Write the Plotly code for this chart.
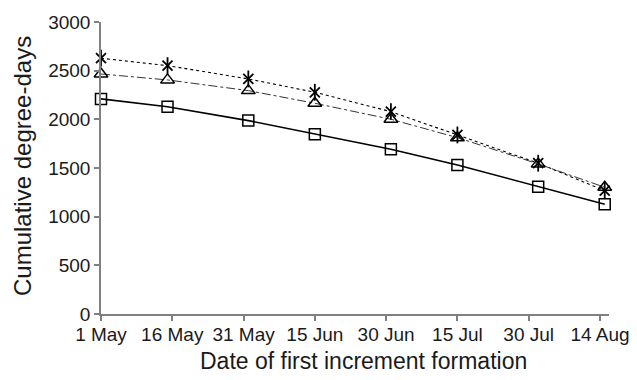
import plotly.graph_objects as go

tick_days = [0, 15, 30, 45, 60, 75, 90, 105]
tick_labels = ["1 May", "16 May", "31 May", "15 Jun", "30 Jun", "15 Jul", "30 Jul", "14 Aug"]

point_days = [0, 14, 31, 45, 61, 75, 92, 106]
series_square = [2210, 2130, 1987, 1847, 1693, 1531, 1308, 1127]
series_triangle = [2466, 2405, 2295, 2165, 2001, 1812, 1542, 1302]
series_star = [2628, 2552, 2415, 2278, 2079, 1840, 1549, 1267]

FONT = "Liberation Sans, Arial, sans-serif"

fig = go.Figure()
fig.add_trace(go.Scatter(
    x=point_days, y=series_star, mode="lines+markers",
    line=dict(color="black", width=1.1, dash="dot"),
    marker=dict(symbol="x-thin-open", size=10, color="black", line=dict(color="black", width=1.8)),
    cliponaxis=False, showlegend=False))
fig.add_trace(go.Scatter(
    x=point_days, y=series_star, mode="markers",
    marker=dict(symbol="line-ns-open", size=12, color="black", line=dict(color="black", width=1.8)),
    cliponaxis=False, showlegend=False))
fig.add_trace(go.Scatter(
    x=point_days, y=series_triangle, mode="lines+markers",
    line=dict(color="#333333", width=1, dash="dashdot"),
    marker=dict(symbol="triangle-up-open", size=12, color="black", line=dict(color="black", width=1.5)),
    cliponaxis=False, showlegend=False))
fig.add_trace(go.Scatter(
    x=point_days, y=series_square, mode="lines+markers",
    line=dict(color="black", width=1.6),
    marker=dict(symbol="square-open", size=11, color="black", line=dict(color="black", width=1.5)),
    cliponaxis=False, showlegend=False))

fig.update_layout(
    width=637, height=380,
    margin=dict(l=101, r=28, t=22, b=66, autoexpand=False),
    paper_bgcolor="white", plot_bgcolor="white",
    font=dict(family=FONT, color="#1a1a1a", size=19),
    annotations=[
        dict(text="Date of first increment formation", xref="paper", yref="paper",
             x=0.5, y=-0.161, xanchor="center", yanchor="middle", showarrow=False,
             font=dict(size=23, color="#1a1a1a"), xshift=8),
        dict(text="Cumulative degree-days", xref="paper", yref="paper",
             x=0, y=0.5, xanchor="center", yanchor="middle", showarrow=False,
             textangle=-90, xshift=-79, yshift=2,
             font=dict(size=24, color="#1a1a1a")),
    ],
)
fig.update_xaxes(
    range=[0, 106.9], tickmode="array", tickvals=tick_days, ticktext=tick_labels,
    showgrid=False, zeroline=False, showline=True, linecolor="#808080", linewidth=1.5,
    ticks="outside", ticklen=5, tickcolor="#808080", tickwidth=1.5,
    tickfont=dict(size=19), automargin=False, ticklabelstandoff=-3,
)
fig.update_yaxes(
    range=[0, 3000], tickmode="array", tickvals=[0, 500, 1000, 1500, 2000, 2500, 3000],
    showgrid=False, zeroline=False, showline=True, linecolor="#808080", linewidth=1.5,
    ticks="outside", ticklen=5, tickcolor="#808080", tickwidth=1.5,
    tickfont=dict(size=19), automargin=False,
)
fig.write_html("out.html")
